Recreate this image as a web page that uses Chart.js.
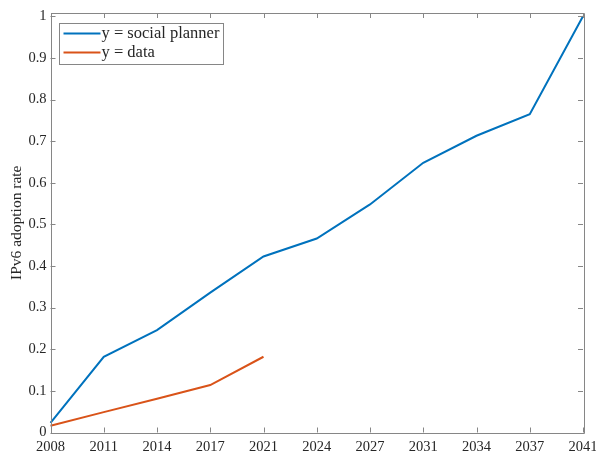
<!DOCTYPE html>
<html>
<head>
<meta charset="utf-8">
<script src="https://cdn.jsdelivr.net/npm/chart.js@4/dist/chart.umd.min.js"></script>
<style>
  html, body { margin: 0; padding: 0; background: #fff; }
  #wrap { width: 596px; height: 452px; }
</style>
</head>
<body>
<div id="wrap"><canvas id="c" width="596" height="452"></canvas></div>
<script>
// Years on the horizontal axis (evenly spaced categories)
const years = ['2008', '2011', '2014', '2017', '2021', '2024', '2027', '2031', '2034', '2037', '2041'];
// Adoption rate under the social planner
const plannerRate = [0.023, 0.182, 0.246, 0.336, 0.423, 0.466, 0.548, 0.648, 0.713, 0.765, 1.0];
// Observed adoption rate
const dataRate = [0.016, 0.049, 0.081, 0.114, 0.182];
// Vertical tick values
const yTicks = [0, 0.1, 0.2, 0.3, 0.4, 0.5, 0.6, 0.7, 0.8, 0.9, 1];

const FONT = 'Liberation Serif, "Times New Roman", serif';
const TEXT = '#262626';
const AXIS = '#868686';

// Closed box with inward tick marks on all four sides
const boxTicks = {
  id: 'boxTicks',
  afterDraw(chart) {
    const { ctx, chartArea: a, scales } = chart;
    const len = 5;
    ctx.save();
    ctx.strokeStyle = AXIS;
    ctx.lineWidth = 1;
    ctx.beginPath();
    ctx.rect(Math.round(a.left) + 0.5, Math.round(a.top) + 0.5,
             Math.round(a.right - a.left), Math.round(a.bottom - a.top));
    scales.x.ticks.forEach((t, i) => {
      const x = Math.round(scales.x.getPixelForTick(i)) + 0.5;
      ctx.moveTo(x, a.bottom); ctx.lineTo(x, a.bottom - len);
      ctx.moveTo(x, a.top); ctx.lineTo(x, a.top + len);
    });
    scales.y.ticks.forEach((t, i) => {
      const y = Math.round(scales.y.getPixelForTick(i)) + 0.5;
      ctx.moveTo(a.left, y); ctx.lineTo(a.left + len, y);
      ctx.moveTo(a.right, y); ctx.lineTo(a.right - len, y);
    });
    ctx.stroke();
    ctx.restore();
  }
};

// Legend drawn inside the upper-left corner of the plot
const innerLegend = {
  id: 'innerLegend',
  afterDraw(chart) {
    const { ctx, chartArea: a } = chart;
    const ds = chart.data.datasets;
    ctx.save();
    ctx.font = '16.5px ' + FONT;
    const widths = ds.map(d => ctx.measureText(d.label).width);
    const x0 = a.left + 8, y0 = a.top + 9.5;
    const lineL = x0 + 5, lineR = x0 + 42, textX = x0 + 43;
    const w = Math.round(textX - x0 + Math.max(...widths) + 3);
    const rowH = 19, h = 41;
    ctx.fillStyle = '#fff';
    ctx.fillRect(Math.round(x0) + 0.5, Math.round(y0) + 0.5, w, h);
    ctx.strokeStyle = AXIS;
    ctx.lineWidth = 1;
    ctx.strokeRect(Math.round(x0) + 0.5, Math.round(y0) + 0.5, w, h);
    ds.forEach((d, i) => {
      const y = y0 + 11 + i * rowH;
      ctx.strokeStyle = d.borderColor;
      ctx.lineWidth = 2;
      ctx.beginPath();
      ctx.moveTo(lineL, y); ctx.lineTo(lineR, y);
      ctx.stroke();
      ctx.fillStyle = TEXT;
      ctx.textBaseline = 'middle';
      ctx.fillText(d.label, textX, y);
    });
    ctx.restore();
  }
};

new Chart(document.getElementById('c'), {
  type: 'line',
  data: {
    labels: years,
    datasets: [
      { label: 'y = social planner', data: plannerRate, borderColor: '#0072BD',
        borderWidth: 2, pointRadius: 0, tension: 0, fill: false },
      { label: 'y = data', data: dataRate, borderColor: '#D95319',
        borderWidth: 2, pointRadius: 0, tension: 0, fill: false }
    ]
  },
  options: {
    responsive: false,
    animation: false,
    events: [],
    layout: { padding: { top: 13, right: 13, left: 0, bottom: 0 } },
    plugins: { legend: { display: false }, tooltip: { enabled: false } },
    scales: {
      x: {
        type: 'category',
        offset: false,
        grid: { display: false, drawTicks: false, tickLength: 0 },
        border: { display: false },
        ticks: {
          autoSkip: false, maxRotation: 0, minRotation: 0,
          color: TEXT, font: { family: FONT, size: 14.5 }, padding: 6
        },
        afterFit(s) { s.height = 19.5; s.paddingLeft = 0; s.paddingRight = 0; }
      },
      y: {
        min: 0,
        max: 1.008,
        grid: { display: false, drawTicks: false, tickLength: 0 },
        border: { display: false },
        afterBuildTicks(s) { s.ticks = yTicks.map(v => ({ value: v })); },
        ticks: {
          color: TEXT, font: { family: FONT, size: 14.5 }, padding: 4,
          callback: v => String(Number(v.toFixed(1)))
        },
        title: {
          display: true, text: 'IPv6 adoption rate', color: TEXT,
          font: { family: FONT, size: 15.5 }, padding: { top: 8, bottom: 0 }
        },
        afterFit(s) { s.width = 50.5; s.paddingTop = 0; s.paddingBottom = 0; }
      }
    }
  },
  plugins: [boxTicks, innerLegend]
});
</script>
</body>
</html>
